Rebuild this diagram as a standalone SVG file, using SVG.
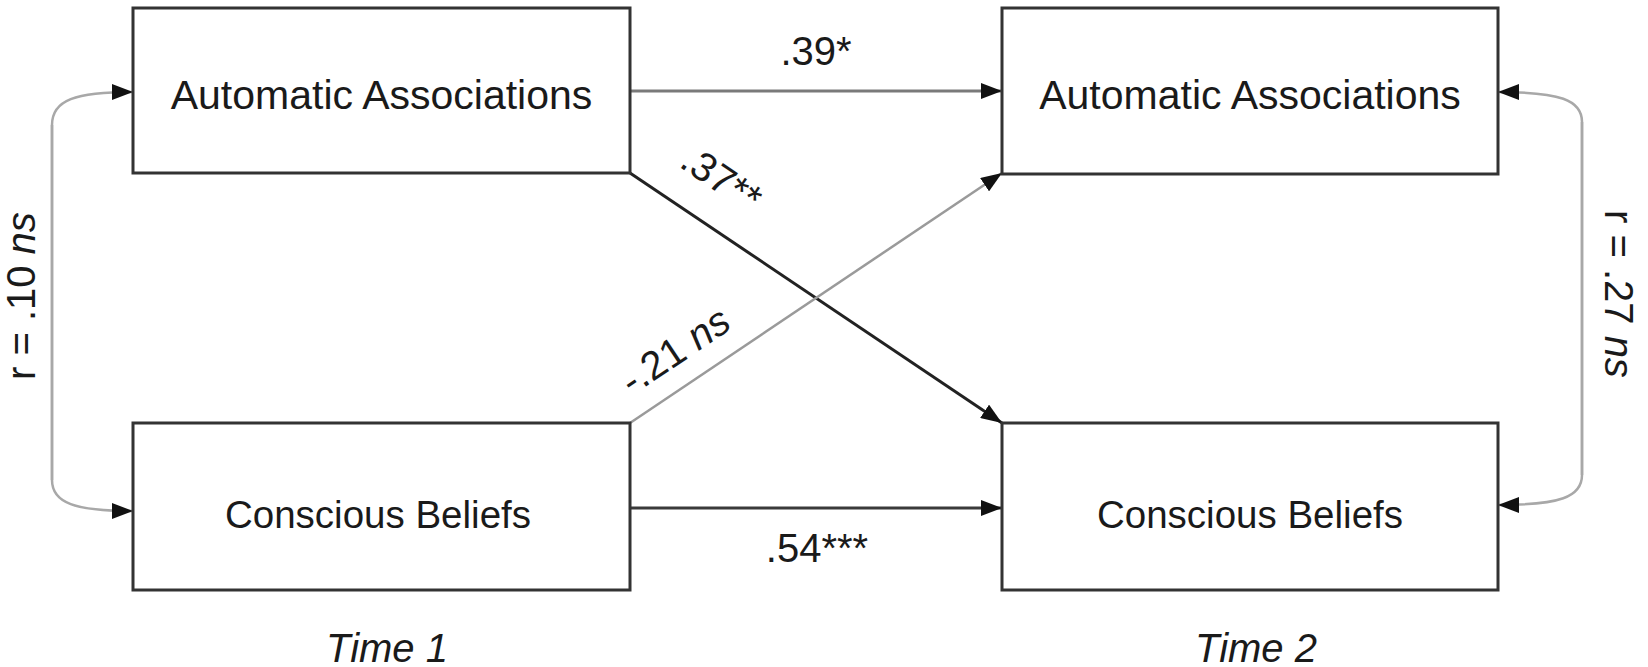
<svg xmlns="http://www.w3.org/2000/svg" width="1648" height="667" viewBox="0 0 1648 667">
<style>
text{font-family:"Liberation Sans",Arial,sans-serif;fill:#1a1a1a;}
.node rect{fill:#fff;stroke:#333;stroke-width:3;}
.lbl{font-size:41px;text-anchor:middle;}
.cb{font-size:38.5px;}
.tm{font-size:40px;text-anchor:middle;font-style:italic;}
.co{font-size:40px;}
.it{font-style:italic;}
</style>
<defs>
<marker id="ah" markerUnits="userSpaceOnUse" markerWidth="22" markerHeight="16" refX="21" refY="8" orient="auto">
<path d="M0,0 L21,8 L0,16 z" fill="#111"/>
</marker>
</defs>
<rect width="1648" height="667" fill="#fff"/>
<g id="connectors" fill="none">
<line x1="630" y1="91" x2="1002" y2="91" stroke="#7a7a7a" stroke-width="3" marker-end="url(#ah)"/>
<line x1="630" y1="508" x2="1002" y2="508" stroke="#3a3a3a" stroke-width="3" marker-end="url(#ah)"/>
<line x1="630" y1="173" x2="1002" y2="423" stroke="#222" stroke-width="3" marker-end="url(#ah)"/>
<line x1="630" y1="423" x2="1002" y2="173" stroke="#9a9a9a" stroke-width="2.5" marker-end="url(#ah)"/>
<path d="M52,480 L52,125 C52,100 75,92 133,92" stroke="#a8a8a8" stroke-width="2.5" marker-end="url(#ah)"/>
<path d="M52,125 L52,480 C52,503 75,511 133,511" stroke="#a8a8a8" stroke-width="2.5" marker-end="url(#ah)"/>
<path d="M1582,475 L1582,122 C1582,100 1560,92 1498,92" stroke="#a8a8a8" stroke-width="2.5" marker-end="url(#ah)"/>
<path d="M1582,122 L1582,475 C1582,497 1560,505 1498,505" stroke="#a8a8a8" stroke-width="2.5" marker-end="url(#ah)"/>
<text class="co" x="816" y="65" text-anchor="middle">.39*</text>
<text class="co" x="817" y="562" text-anchor="middle">.54***</text>
<text class="co" x="678" y="166" transform="rotate(34 678 166)">.37**</text>
<text class="co" x="632" y="396" transform="rotate(-34 632 396)">-.21 <tspan class="it">ns</tspan></text>
<text class="co" x="35" y="380" transform="rotate(-90 35 380)">r = .10 <tspan class="it">ns</tspan></text>
<text class="co" x="1605" y="210" transform="rotate(90 1605 210)">r = .27 <tspan class="it">ns</tspan></text>
</g>
<g id="aa1" class="node"><rect x="133" y="8" width="497" height="165"/><text class="lbl" x="381.5" y="109">Automatic Associations</text></g>
<g id="aa2" class="node"><rect x="1002" y="8" width="496" height="166"/><text class="lbl" x="1250" y="109">Automatic Associations</text></g>
<g id="cb1" class="node"><rect x="133" y="423" width="497" height="167"/><text class="lbl cb" x="378" y="528">Conscious Beliefs</text></g>
<g id="cb2" class="node"><rect x="1002" y="423" width="496" height="167"/><text class="lbl cb" x="1250" y="528">Conscious Beliefs</text></g>
<text class="tm" x="387" y="662">Time 1</text>
<text class="tm" x="1256" y="662">Time 2</text>
</svg>
